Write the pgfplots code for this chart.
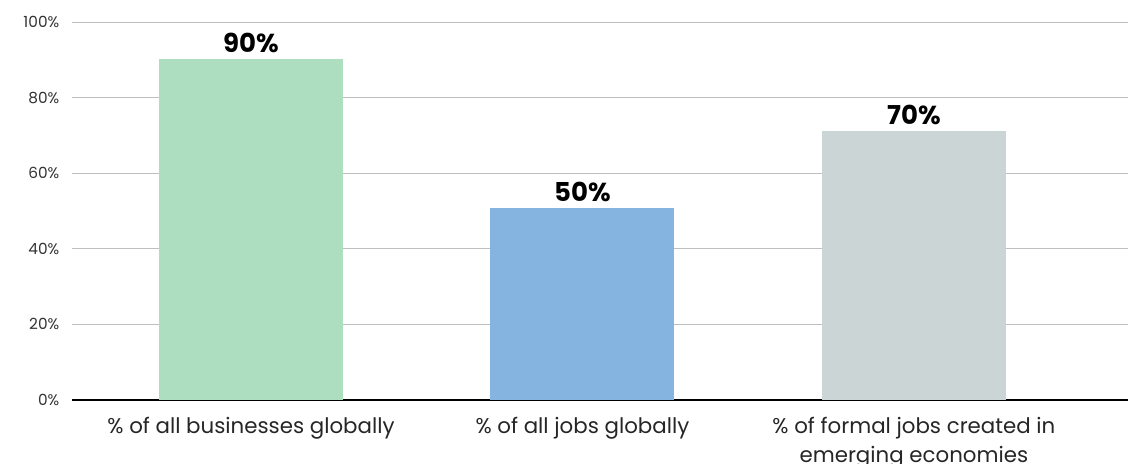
\documentclass[border=0pt]{standalone}
\usepackage{pgfplots}
\pgfplotsset{compat=1.18}
\usepackage{fontspec}
\setmainfont{Poppins}
\definecolor{cgreen}{HTML}{ADDEC0}
\definecolor{cblue}{HTML}{86B4E0}
\definecolor{cgrey}{HTML}{CCD5D5}
\definecolor{cgrid}{HTML}{BFBFBF}
\begin{document}
\begin{tikzpicture}[x=1pt,y=1pt]
\begin{axis}[
  at={(0,0)}, anchor=south west,
  scale only axis,
  width=792pt, height=283.5pt,
  xmin=-0.54, xmax=2.646,
  ymin=0, ymax=100,
  xtick={0,1,2},
  xticklabels={\% of all businesses globally, \% of all jobs globally, {\% of formal jobs created in\\emerging economies}},
  xticklabel style={align=center, font=\fontsize{16}{22}\selectfont, text=black!85},
  ytick={0,20,40,60,80,100},
  yticklabel={\pgfmathprintnumber{\tick}\%},
  yticklabel style={font=\fontsize{11.5}{13}\selectfont, text=black!80},
  /pgf/number format/assume math mode=true,
  ymajorgrids, grid style={cgrid, line width=0.6pt},
  axis x line*=bottom, axis y line*=left,
  y axis line style={draw=none},
  x axis line style={black, line width=1.5pt, -},
  major tick length=0pt,
  xtick style={draw=none}, ytick style={draw=none},
  xticklabel shift=9pt,
  yticklabel shift=6pt,
  ybar, bar width=0.555, bar shift=0pt,
  nodes near coords,
  point meta=explicit symbolic,
  nodes near coords style={font=\fontsize{19.5}{22}\selectfont\bfseries, text=black, anchor=south, yshift=1pt},
  clip=false,
]
\addplot[fill=cgreen, draw=none] coordinates {(0,90.2) [90\%]};
\addplot[fill=cblue, draw=none] coordinates {(1,50.8) [50\%]};
\addplot[fill=cgrey, draw=none] coordinates {(2,71.2) [70\%]};
\end{axis}
\pgfresetboundingbox
\path (-54,-48) rectangle (792,300);
\end{tikzpicture}
\end{document}
